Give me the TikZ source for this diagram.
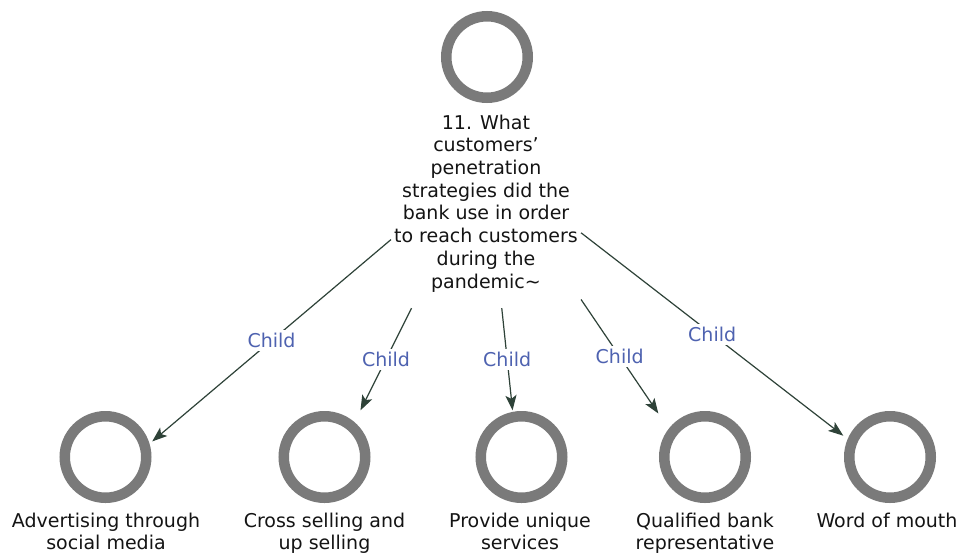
\documentclass[tikz,border=0pt]{standalone}
\usepackage{fontspec}
\setmainfont{DejaVu Sans}
\usetikzlibrary{arrows.meta,fit,intersections}
\definecolor{ringgray}{RGB}{122,122,122}
\definecolor{linkcol}{RGB}{46,66,56}
\definecolor{childblue}{RGB}{78,98,176}
\definecolor{txt}{RGB}{20,20,20}

% connector from the question to answer #1: aimed between group centres,
% clipped at the question text box and at the square around the answer ring
\newcommand{\childedge}[1]{%
  \path[name path=e#1] (g0.center) -- (g#1.center);
  \path[name path=q#1] (r#1.north west) rectangle (r#1.south east);
  \path[name intersections={of=e#1 and b0, by=s#1}];
  \path[name intersections={of=e#1 and q#1, by=t#1}];
  \draw[link] (s#1) -- node[childlbl] {Child} (t#1);
}

\begin{document}
\begin{tikzpicture}[x=1pt,y=-1pt,
  ring/.style={rectangle, minimum size=93pt, inner sep=0pt,
    path picture={\draw[ringgray, line width=10.5pt]
      (path picture bounding box.center) circle[radius=40.75pt];}},
  toplabel/.style={align=center, font=\fontsize{19}{22.7}\selectfont,
    inner xsep=3pt, inner ysep=16pt, text=txt},
  leaflabel/.style={align=center, font=\fontsize{19}{22}\selectfont,
    inner sep=1pt, text=txt},
  group/.style={inner sep=0pt},
  link/.style={draw=linkcol, line width=1.2pt,
    -{Stealth[length=15pt,width=11pt,inset=3.5pt]}},
  childlbl/.style={fill=white, text=childblue,
    font=\fontsize{19}{22}\selectfont, inner sep=3pt}]

% canvas
\fill[white] (0,0) rectangle (962,552);

% question node
\node[ring] (r0) at (487,57) {};
\node[toplabel, anchor=north] (l0) at (486,98.5)
  {11. What\\customers'\\penetration\\strategies did the\\bank use in order\\to reach customers\\during the\\pandemic\textasciitilde};
\node[group, fit=(r0)(l0)] (g0) {};

% answer nodes
\node[ring] (r1) at (105.5,457) {};
\node[leaflabel, anchor=north] (l1) at (106,511.6) {Advertising through\\social media};
\node[group, fit=(r1)(l1)] (g1) {};

\node[ring] (r2) at (324.5,457) {};
\node[leaflabel, anchor=north] (l2) at (324.5,511.6) {Cross selling and\\up selling};
\node[group, fit=(r2)(l2)] (g2) {};

\node[ring] (r3) at (521.5,457) {};
\node[leaflabel, anchor=north] (l3) at (520,511.6) {Provide unique\\services};
\node[group, fit=(r3)(l3)] (g3) {};

\node[ring] (r4) at (705,457) {};
\node[leaflabel, anchor=north] (l4) at (705,511.6) {Qualified bank\\representative};
\node[group, fit=(r4)(l4)] (g4) {};

\node[ring] (r5) at (890,457) {};
\node[leaflabel, anchor=north] (l5) at (887,511.6) {Word of mouth};
\node[group, fit=(r5)(l5)] (g5) {};

% connectors
\path[name path=b0] (l0.north west) rectangle (l0.south east);
\childedge{1}
\childedge{2}
\childedge{3}
\childedge{4}
\childedge{5}
\end{tikzpicture}
\end{document}
